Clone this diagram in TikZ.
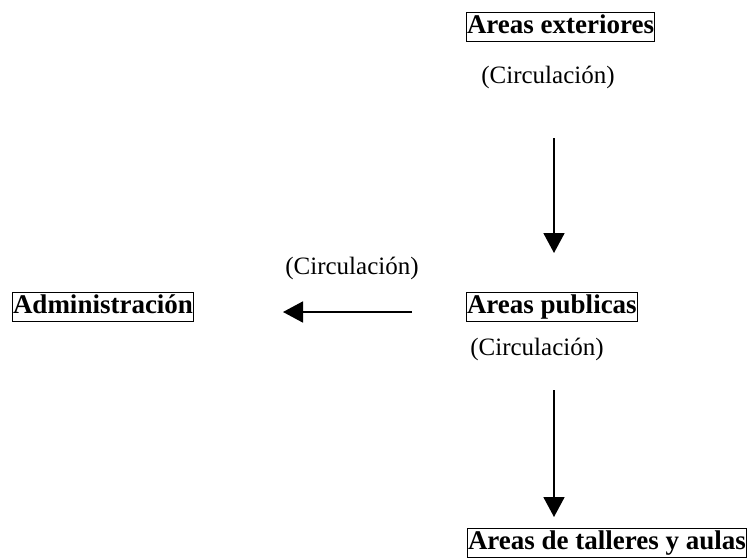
\documentclass[tikz,border=0pt]{standalone}
\usepackage{fontspec}
\setmainfont{Liberation Serif}
\usetikzlibrary{arrows.meta}
\begin{document}
\begin{tikzpicture}[x=1pt,y=-1pt,
  boxnode/.style={draw,line width=1pt,inner xsep=0.5pt,inner ysep=1.5pt,text height=19.5pt,text depth=6pt,anchor=north west,font=\fontsize{27}{30}\selectfont\bfseries},
  lbl/.style={inner sep=0pt,font=\fontsize{25}{28}\selectfont},
  flow/.style={line width=1.8pt,-{Triangle[width=21pt,length=20pt]}}]
\useasboundingbox (0,0) rectangle (748,558);
\node[boxnode] (ext) at (466,12) {Areas exteriores};
\node[lbl] (c1) at (548,77) {(Circulación)};
\coordinate (a1s) at (554,138);
\coordinate (a1e) at (554,253);
\draw[flow] (a1s) -- (a1e);
\node[lbl] (c2) at (352,268) {(Circulación)};
\node[boxnode] (adm) at (12,292) {Administración};
\coordinate (a2s) at (412,312);
\coordinate (a2e) at (283,312);
\draw[flow] (a2s) -- (a2e);
\node[boxnode] (pub) at (466,292) {Areas publicas};
\node[lbl] (c3) at (537,349) {(Circulación)};
\coordinate (a3s) at (554,390);
\coordinate (a3e) at (554,517);
\draw[flow] (a3s) -- (a3e);
\node[boxnode] (tal) at (467,528) {Areas de talleres y aulas};
\end{tikzpicture}
\end{document}
